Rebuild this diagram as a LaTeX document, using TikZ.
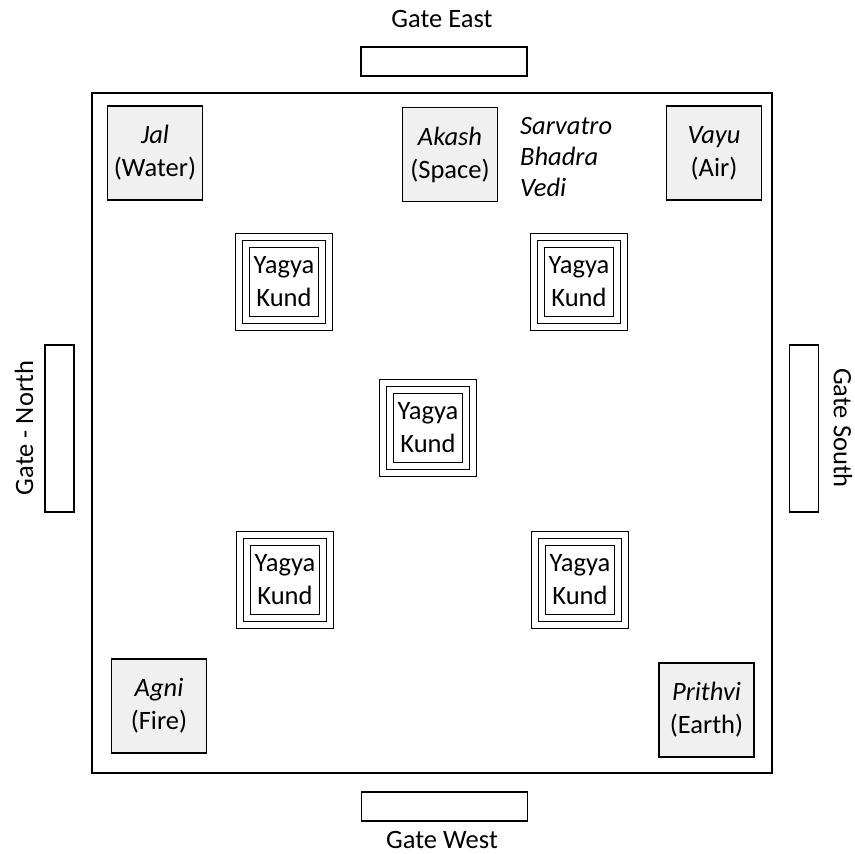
\documentclass[tikz,border=0pt]{standalone}
\usepackage{fontspec}
\setmainfont{Carlito}
\begin{document}
\begin{tikzpicture}[x=1pt,y=-1pt,
  txt/.style={font=\fontsize{26.5}{33}\selectfont},
  lbl/.style={txt, align=center, inner sep=0pt},
  elem/.style={txt, draw, line width=1.3pt, fill=black!6, minimum width=95pt, minimum height=94pt, align=center, inner sep=0pt},
  gateh/.style={draw, line width=1.3pt, minimum width=166pt, minimum height=29pt, inner sep=0pt},
  gatev/.style={draw, line width=1.3pt, minimum width=29pt, minimum height=167pt, inner sep=0pt},
  kund/.style={txt, draw, line width=1.3pt, minimum width=69pt, minimum height=69pt, align=center, inner sep=0pt},
  ring/.style={draw, line width=1.3pt, minimum width=#1, minimum height=#1, inner sep=0pt}
]
\useasboundingbox (0,0) rectangle (855,854);
% outer vedi
\draw[line width=1.6pt] (92,93) rectangle (772,773);
% gates
\node[gateh] (ge) at (444,61.5) {};
\node[lbl] (gel) at (442,19) {Gate East};
\node[gateh] (gw) at (444.5,806.5) {};
\node[lbl] (gwl) at (442,840) {Gate West};
\node[gatev] (gn) at (59.5,428.5) {};
\node[lbl, rotate=90] (gnl) at (24,428) {Gate - North};
\node[gatev] (gs) at (804,428.5) {};
\node[lbl, rotate=-90] (gsl) at (843,428) {Gate South};
% elements
\node[elem] (jal) at (155,153) {\textit{Jal}\\(Water)};
\node[elem] (akash) at (450,154.5) {\textit{Akash}\\(Space)};
\node[elem] (vayu) at (714,153) {\textit{Vayu}\\(Air)};
\node[elem] (agni) at (159,706) {\textit{Agni}\\(Fire)};
\node[elem] (prithvi) at (706.5,710) {\textit{Prithvi}\\(Earth)};
\node[inner sep=0pt, align=left, anchor=north west, font=\fontsize{26.5}{31}\selectfont\itshape] (svb) at (520,117) {Sarvatro\\Bhadra\\Vedi};
% kunds
\node[kund] (k1) at (284,282) {Yagya\\Kund};
\node[kund] (k2) at (579,282) {Yagya\\Kund};
\node[kund] (k3) at (428,428) {Yagya\\Kund};
\node[kund] (k4) at (285,580) {Yagya\\Kund};
\node[kund] (k5) at (580,580) {Yagya\\Kund};
\foreach \k in {k1,k2,k3,k4,k5} {
  \node[ring=83pt] (\k m) at (\k.center) {};
  \node[ring=97pt] (\k o) at (\k.center) {};
}
\end{tikzpicture}
\end{document}
